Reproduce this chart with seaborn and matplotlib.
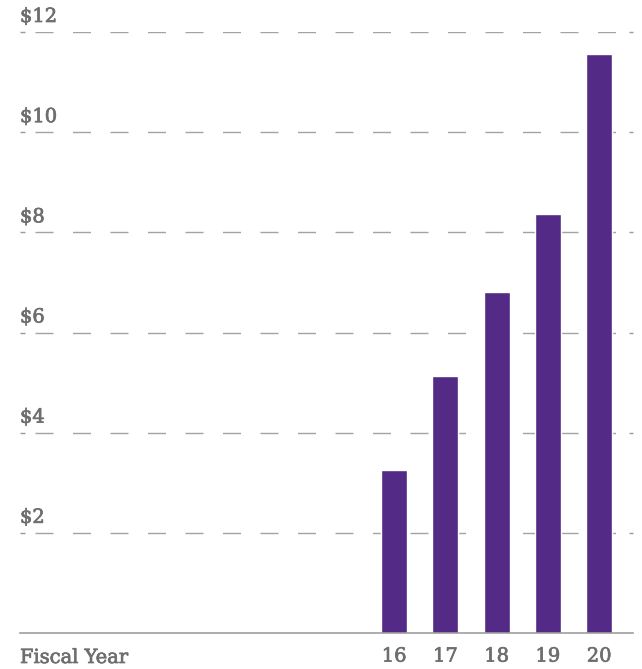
import matplotlib
matplotlib.use("Agg")
import matplotlib.pyplot as plt
import matplotlib.patheffects as pe
import seaborn as sns
import pandas as pd

# ---- data ----
years = ["16", "17", "18", "19", "20"]
values = [3.25, 5.13, 6.81, 8.37, 11.56]
grid_values = [2, 4, 6, 8, 10, 12]
grid_labels = ["$2", "$4", "$6", "$8", "$10", "$12"]
x_title = "Fiscal Year"

BAR = "#532a86"
TXT = "#6e6e6e"
GRID = "#a3a3a3"
PX = 72 / 100.0  # points per pixel at dpi 100
FS = 14
EFF = [pe.withStroke(linewidth=0.5, foreground=TXT)]

sns.set_style("white")
plt.rcParams["font.family"] = ["DejaVu Serif", "DejaVu Sans"]

df = pd.DataFrame({"year": years, "value": values})

fig = plt.figure(figsize=(6.42, 6.69), dpi=100)
ax = fig.add_axes([20 / 642, 36 / 669, 613 / 642, 601 / 669])

sns.barplot(data=df, x="year", y="value", order=years, color=BAR,
            saturation=1, width=0.507, ax=ax, zorder=3)

ax.set_xlim(-7.30, 4.66)
ax.set_ylim(0, 12)

# dashed gridlines
lw = 1.4 * PX
for v in grid_values:
    ax.axhline(v, xmin=15 / 613, xmax=603 / 613, color=GRID, lw=lw,
               ls=(0, (18 * PX / lw, 19.5 * PX / lw)), zorder=1)

# small end ticks
ax.set_yticks(grid_values)
ax.tick_params(axis="y", direction="in", length=4.5 * PX, width=1.4 * PX,
               color="#9a9a9a", left=True, right=True,
               labelleft=False, labelright=False)

# y labels above gridlines
for v, lab in zip(grid_values, grid_labels):
    ax.annotate(lab, xy=(0, v), xycoords=("axes fraction", "data"),
                xytext=(0, 10 * PX), textcoords="offset points",
                ha="left", va="baseline", fontsize=FS, color=TXT,
                annotation_clip=False, path_effects=EFF)

# x axis
ax.set_xlabel("")
ax.set_ylabel("")
ax.tick_params(axis="x", length=0, pad=10.5, labelsize=FS, labelcolor=TXT)
for t in ax.get_xticklabels():
    t.set_path_effects(EFF)
ax.annotate(x_title, xy=(0, 0), xycoords="axes fraction",
            xytext=(0, -30 * PX), textcoords="offset points",
            ha="left", va="baseline", fontsize=FS, color=TXT,
            annotation_clip=False, path_effects=EFF)

for s in ["top", "left", "right"]:
    ax.spines[s].set_visible(False)
ax.spines["bottom"].set_color("#9a9a9a")
ax.spines["bottom"].set_linewidth(1.6 * PX)
ax.spines["bottom"].set_zorder(4)

fig.savefig("out.png", dpi=100)
